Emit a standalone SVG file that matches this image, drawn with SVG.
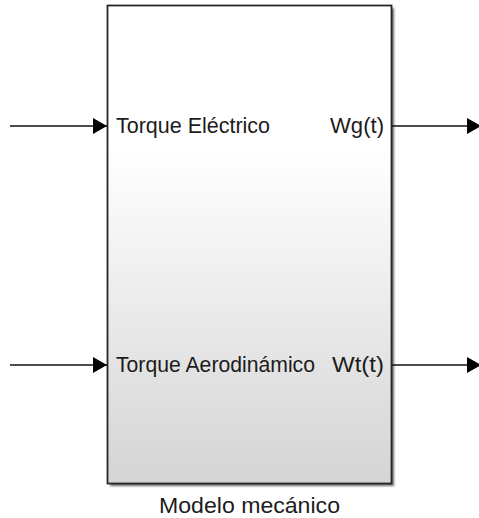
<svg xmlns="http://www.w3.org/2000/svg" width="479" height="518" viewBox="0 0 479 518">
  <defs>
    <linearGradient id="blockFill" x1="0" y1="0" x2="0" y2="1">
      <stop offset="0" stop-color="#ffffff"/>
      <stop offset="0.3" stop-color="#ffffff"/>
      <stop offset="1" stop-color="#d4d4d4"/>
    </linearGradient>
    <filter id="shadow" x="-10%" y="-10%" width="120%" height="120%">
      <feGaussianBlur stdDeviation="1"/>
    </filter>
    <marker id="arrow" viewBox="0 0 14 16" refX="14" refY="8" markerWidth="14" markerHeight="16" markerUnits="userSpaceOnUse" orient="auto">
      <path d="M0,0 L14,8 L0,16 Z" fill="#000"/>
    </marker>
  </defs>
  <style>
    .wire { stroke: #111; stroke-width: 1.6; fill: none; marker-end: url(#arrow); }
    .port { font-family: "Liberation Sans", Arial, sans-serif; font-size: 22px; fill: #1c1c1c; }
    .name { font-family: "Liberation Sans", Arial, sans-serif; font-size: 22px; fill: #1c1c1c; }
  </style>
  <rect width="479" height="518" fill="#ffffff"/>

  <g id="modelo-mecanico">
    <rect x="110" y="8" width="284" height="478" fill="#6a6a6a" filter="url(#shadow)"/>
    <rect x="107.5" y="5.5" width="284" height="478" fill="url(#blockFill)" stroke="#262626" stroke-width="1.8"/>
    <text class="port" x="116" y="133" textLength="154" lengthAdjust="spacingAndGlyphs">Torque Eléctrico</text>
    <text class="port" x="330" y="133" textLength="54" lengthAdjust="spacingAndGlyphs">Wg(t)</text>
    <text class="port" x="116" y="372" textLength="199" lengthAdjust="spacingAndGlyphs">Torque Aerodinámico</text>
    <text class="port" x="332" y="372" textLength="52" lengthAdjust="spacingAndGlyphs">Wt(t)</text>
    <text class="name" x="159" y="513" textLength="181" lengthAdjust="spacingAndGlyphs">Modelo mecánico</text>
  </g>

  <g id="connectors">
    <line class="wire" x1="10" y1="126" x2="107" y2="126"/>
    <line class="wire" x1="10" y1="365" x2="107" y2="365"/>
    <line class="wire" x1="392" y1="126" x2="481" y2="126"/>
    <line class="wire" x1="392" y1="365" x2="481" y2="365"/>
  </g>
</svg>
